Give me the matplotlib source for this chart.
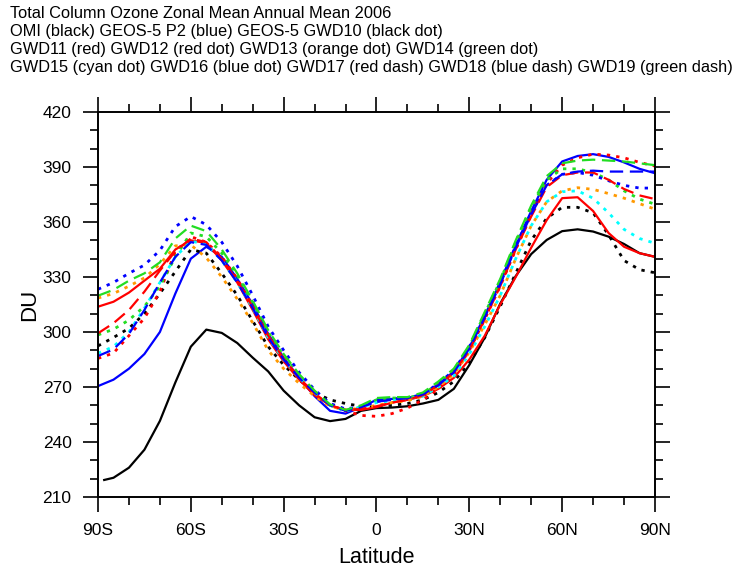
import matplotlib
matplotlib.use("Agg")
import matplotlib.pyplot as plt
from matplotlib.ticker import MultipleLocator

plt.rcParams['font.family'] = ['Liberation Sans', 'DejaVu Sans']

# latitude grid shared by the model runs
lat = [-90, -85, -80, -75, -70, -65, -60, -55, -50, -45, -40, -35, -30,
       -25, -20, -15, -10, -5, 0, 5, 10, 15, 20, 25, 30, 35, 40, 45,
       50, 55, 60, 65, 70, 75, 80, 85, 90]
# OMI has no data at the pole
lat_omi = [-88] + lat[1:]

omi = [219.3, 220.5, 226, 235.8, 251.5, 272.5, 292, 301.3, 299.5, 294, 286, 278.5, 268,
       260, 253.5, 251.4, 252.6, 257, 258.5, 258.8, 259.5, 261, 263, 269, 282, 297, 315.5, 330.5,
       342.5, 350.2, 355, 356, 354.8, 352, 348, 343, 341]
geos5_p2 = [270.5, 274, 280, 288, 300, 321, 340, 346.5, 341, 329, 315, 299, 286,
            275, 265, 257, 255.5, 259, 263, 263.5, 264, 266, 271.5, 278.5, 291.5, 309, 327, 347,
            366, 383, 393, 396, 397, 395.5, 392.5, 389, 386.6]
gwd10 = [292.4, 297, 302, 310, 321, 333, 345, 343, 332, 320, 306, 292, 282,
         274, 267, 263, 261, 259.5, 259, 260, 261, 263, 267, 273, 283, 297, 314, 332,
         350, 362, 368, 368, 365, 353, 339, 334, 332.3]
gwd11 = [313.8, 316.5, 321.5, 328, 334.5, 345, 350, 348.5, 339, 327, 312, 296, 284,
         274, 265.5, 260, 257.5, 257.5, 259, 261.5, 263, 265, 269, 275, 285, 298, 315, 330,
         346, 361, 373, 373.5, 366, 354, 346.5, 343, 341]
gwd12 = [285.6, 288.5, 298, 307.5, 322, 344, 352, 349, 341, 329, 314, 298, 285,
         275, 266, 260, 257, 254.5, 254, 255.5, 258.5, 263, 269, 277, 290, 307, 325, 345,
         364, 381, 391, 395, 397, 396.5, 395, 392.5, 390.5]
gwd13 = [318.5, 321, 325, 329.5, 337, 347, 347.5, 340.5, 330, 318, 305, 290, 280,
         272, 265, 259.5, 257.5, 258.5, 260, 261.5, 262.5, 265, 270, 277, 289, 304, 320, 340,
         358, 371, 377, 378.7, 377.8, 375.5, 373, 370, 367]
gwd14 = [298.4, 301.5, 306.5, 314, 325, 341, 354, 352, 343, 331, 316, 300, 287,
         276, 267, 260, 257, 259, 263, 264, 264, 266, 272, 279, 292, 310, 328, 349,
         368, 383, 389, 389, 387, 383, 377, 372.5, 369.7]
gwd15 = [288.4, 292, 300, 313, 327, 341, 349.5, 348, 339, 327, 313, 297, 285,
         275, 267, 260, 257, 259, 261.5, 262.5, 263.5, 265, 270, 276, 288, 303, 320, 340,
         358, 371, 376.5, 377, 373, 365, 356, 351, 348.4]
gwd16 = [323.3, 327, 332, 336.5, 344.5, 357.5, 363, 358.5, 349, 336, 320, 303, 290,
         278, 268.5, 261, 258, 259.5, 262, 263.5, 264, 266, 272, 279, 292, 309, 327, 347,
         365, 380, 386, 387, 385.5, 382.5, 380, 378.5, 378.5]
gwd17 = [299.3, 304.8, 312, 322, 333.5, 344, 351, 349, 340, 328, 313.5, 298, 285.5,
         275, 266.5, 260, 257.5, 258, 259.5, 261.5, 263, 265.5, 271, 278, 290, 307, 325, 345,
         363, 379, 385.5, 387, 387, 383, 378, 374.5, 372.5]
gwd18 = [286.9, 290.5, 299, 312, 327, 341, 349, 347.5, 339, 327, 313, 297, 285,
         275, 267, 260, 257, 259, 262, 263, 264, 266, 271, 278, 291, 308, 326, 346,
         364, 380, 386, 387.5, 388, 387.5, 387.5, 387.5, 387.5]
gwd19 = [319.8, 323, 328, 332, 338, 351, 358, 355, 345, 332, 317, 301, 288,
         277, 268, 260.5, 257.5, 260, 264, 264.5, 264.5, 267, 273, 280, 293, 311, 329, 350,
         369, 385, 392, 393.5, 394, 393.5, 393, 392, 391]

xticks = [-90, -60, -30, 0, 30, 60, 90]
xtick_labels = ['90S', '60S', '30S', '0', '30N', '60N', '90N']

title = ("Total Column Ozone Zonal Mean Annual Mean 2006\n"
         "OMI (black) GEOS-5 P2 (blue) GEOS-5 GWD10 (black dot)\n"
         "GWD11 (red) GWD12 (red dot) GWD13 (orange dot) GWD14 (green dot)\n"
         "GWD15 (cyan dot) GWD16 (blue dot) GWD17 (red dash) GWD18 (blue dash) GWD19 (green dash)")

dot = (0, (1.2, 2.2))
dash = (0, (6, 3))

fig = plt.figure(figsize=(7.38, 5.69), dpi=100)
ax = fig.add_axes([0.1328, 0.1265, 0.7547, 0.6767])

ax.plot(lat_omi, omi, color='black', lw=1.6)
ax.plot(lat, geos5_p2, color='blue', lw=1.6)
ax.plot(lat, gwd10, color='black', lw=2, ls=dot)
ax.plot(lat, gwd11, color='red', lw=1.6)
ax.plot(lat, gwd12, color='red', lw=2, ls=dot)
ax.plot(lat, gwd13, color='#ff9900', lw=2, ls=dot)
ax.plot(lat, gwd14, color='#22dd22', lw=2, ls=dot)
ax.plot(lat, gwd15, color='cyan', lw=2, ls=dot)
ax.plot(lat, gwd16, color='blue', lw=2, ls=dot)
ax.plot(lat, gwd17, color='red', lw=1.6, ls=dash)
ax.plot(lat, gwd18, color='blue', lw=1.6, ls=dash)
ax.plot(lat, gwd19, color='#22dd22', lw=1.6, ls=dash)

ax.set_xlim(-90, 90)
ax.set_ylim(210, 420)
ax.set_xticks(xticks)
ax.set_xticklabels(xtick_labels)
ax.set_yticks(range(210, 421, 30))
ax.xaxis.set_minor_locator(MultipleLocator(10))
ax.yaxis.set_minor_locator(MultipleLocator(10))
ax.tick_params(which='both', direction='out', top=True, right=True, width=1.2,
               labelsize=12.5)
ax.tick_params(which='major', length=11, pad=8)
ax.tick_params(which='minor', length=6)
for s in ax.spines.values():
    s.set_linewidth(1.4)

ax.set_xlabel('Latitude', fontsize=15.5, labelpad=6)
ax.set_ylabel('DU', fontsize=16, labelpad=2)

fig.text(0.0135, 0.99, title, ha='left', va='top', fontsize=11.8, linespacing=1.27)

fig.savefig('out.png', dpi=100)
